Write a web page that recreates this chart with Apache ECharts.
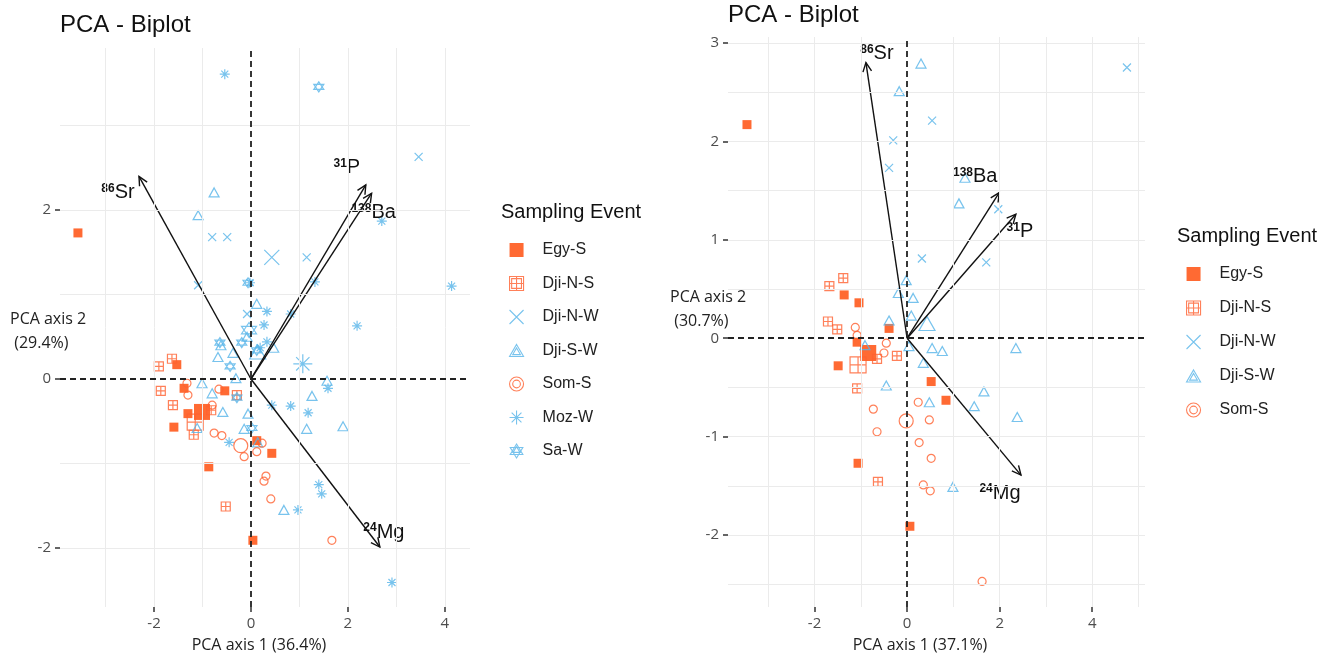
<!DOCTYPE html>
<html>
<head>
<meta charset="utf-8">
<title>PCA - Biplot</title>
<script src="https://cdn.jsdelivr.net/npm/echarts@6/dist/echarts.min.js"></script>
<style>
  html, body { margin: 0; padding: 0; background: #fff; }
  #main { width: 1338px; height: 659px; }
</style>
</head>
<body>
<div id="main"></div>
<script>
// ---- data: left biplot ----
const leftEgyS = [[-3.57, 1.73], [-1.53, 0.17], [-1.38, -0.11], [-1.30, -0.41], [-1.59, -0.57], [-0.54, -0.14], [0.12, -0.73], [0.43, -0.88], [-0.87, -1.04], [0.04, -1.91]];
const leftDjiNS = [[-1.90, 0.15], [-1.63, 0.24], [-1.86, -0.14], [-1.61, -0.31], [-1.18, -0.66], [-0.29, -0.19], [-0.82, -0.37], [-0.52, -1.51]];
const leftDjiNW = [[3.46, 2.63], [-0.80, 1.68], [-0.49, 1.68], [1.15, 1.44], [-1.09, 1.11], [-0.08, 0.77]];
const leftDjiSW = [[-0.76, 2.21], [-1.09, 1.94], [0.12, 0.89], [-1.01, -0.05], [-0.80, -0.17], [-0.58, -0.39], [-0.06, -0.41], [-0.14, -0.59], [-1.11, -0.58], [-0.68, 0.26], [-0.37, 0.31], [0.47, 0.37], [-0.08, 0.50], [0.14, -0.75], [1.57, -0.02], [1.26, -0.20], [1.15, -0.59], [1.90, -0.56], [0.68, -1.55], [-0.62, 0.40], [-0.31, 0.01]];
const leftSomS = [[-1.32, -0.05], [-1.30, -0.19], [-0.66, -0.12], [-0.80, -0.31], [-0.76, -0.64], [-0.60, -0.67], [-0.14, -0.92], [0.12, -0.86], [0.23, -0.76], [0.31, -1.15], [0.27, -1.21], [0.41, -1.42], [1.67, -1.91]];
const leftMozW = [[-0.54, 3.61], [2.70, 1.87], [1.32, 1.15], [4.14, 1.10], [0.33, 0.80], [0.27, 0.64], [2.19, 0.63], [0.82, 0.77], [0.33, 0.44], [0.19, 0.37], [-0.02, 1.14], [1.59, -0.11], [0.43, -0.31], [0.82, -0.32], [1.18, -0.40], [-0.45, -0.75], [1.40, -1.25], [1.46, -1.36], [0.97, -1.55], [2.91, -2.41]];
const leftSaW = [[1.40, 3.46], [-0.06, 1.14], [-0.64, 0.43], [-0.43, 0.15], [-0.29, -0.22], [0.02, -0.58], [0.12, 0.34], [-0.19, 0.43]];
// group means (large symbols), same order as groupNames
const leftMeans = [[-1.01, -0.39], [-1.15, -0.51], [0.43, 1.44], [0.14, 0.32], [-0.21, -0.79], [1.07, 0.18], [-0.04, 0.58]];
const leftLoadings = [[-2.31, 2.40], [2.37, 2.30], [2.49, 2.20], [2.66, -1.99]];

// ---- data: right biplot ----
const rightEgyS = [[-3.46, 2.17], [-1.36, 0.44], [-1.04, 0.36], [-0.39, 0.10], [-1.08, -0.04], [-1.49, -0.28], [0.52, -0.44], [0.84, -0.63], [-1.06, -1.27], [0.06, -1.91]];
const rightDjiNS = [[-1.68, 0.53], [-1.38, 0.61], [-1.71, 0.17], [-1.51, 0.09], [-0.65, -0.21], [-0.22, -0.18], [-1.08, -0.51], [-0.63, -1.46]];
const rightDjiNW = [[4.75, 2.75], [0.54, 2.21], [-0.30, 2.01], [-0.39, 1.73], [1.97, 1.31], [0.32, 0.81], [1.71, 0.77]];
const rightDjiSW = [[0.30, 2.79], [-0.17, 2.51], [1.12, 1.37], [1.25, 1.63], [-0.02, 0.59], [-0.19, 0.46], [0.13, 0.41], [0.09, 0.23], [-0.39, 0.18], [0.04, -0.08], [0.54, -0.10], [0.76, -0.13], [2.35, -0.10], [0.35, -0.25], [-0.45, -0.48], [1.66, -0.54], [0.48, -0.65], [1.45, -0.69], [2.38, -0.80], [0.99, -1.51], [-0.91, -0.07]];
const rightSomS = [[-1.12, 0.11], [-1.08, 0.03], [-0.45, -0.05], [-0.50, -0.15], [0.24, -0.65], [-0.73, -0.72], [0.48, -0.83], [-0.65, -0.95], [0.26, -1.06], [0.52, -1.22], [0.35, -1.49], [0.50, -1.55], [1.62, -2.47]];
const rightMeans = [[-0.84, -0.15], [-1.06, -0.27], null, [0.43, 0.15], [-0.02, -0.84]];
const rightLoadings = [[-0.89, 2.80], [1.99, 1.48], [2.35, 1.26], [2.46, -1.39]];

// ---- labels ----
const groupNames = ['Egy-S', 'Dji-N-S', 'Dji-N-W', 'Dji-S-W', 'Som-S', 'Moz-W', 'Sa-W'];
const leftVarNames = ['Sr', 'P', 'Ba', 'Mg'];
const leftIsotopes = ['86', '31', '138', '24'];
const rightVarNames = ['Sr', 'Ba', 'P', 'Mg'];
const rightIsotopes = ['86', '138', '31', '24'];

const leftXTicks = [-2, 0, 2, 4];
const leftYTicks = [-2, 0, 2];
const leftXGrid = [-3, -2, -1, 1, 2, 3, 4];
const leftYGrid = [-2, -1, 1, 2, 3];
const rightXTicks = [-2, 0, 2, 4];
const rightYTicks = [-2, -1, 0, 1, 2, 3];
const rightXGrid = [-3, -2, -1, 1, 2, 3, 4, 5];
const rightYGrid = [-2.5, -2, -1.5, -1, -0.5, 0.5, 1, 1.5, 2, 2.5, 3];

// ---- styles ----
const RED = '#FF4500';
const ORANGE = '#FF6030';
const BLUE = '#56B4E9';
const SYM = {
  'Egy-S':   { symbol: 'rect', size: 9, big: 16, color: RED, filled: true, icon: 'rect' },
  'Dji-N-S': { symbol: 'path://M0,0H10V10H0Z M5,0V10 M0,5H10', size: 9, big: 16, color: ORANGE,
               icon: 'path://M0,0H20V20H0Z M3,3H17V17H3Z M10,0V20 M0,10H20' },
  'Dji-N-W': { symbol: 'path://M0,0L10,10 M10,0L0,10', size: 8, big: 15, color: BLUE,
               icon: 'path://M0,0L20,20 M20,0L0,20' },
  'Dji-S-W': { symbol: 'path://M5,0L10,8.66L0,8.66Z', size: [10, 9], big: [16, 14], color: BLUE,
               icon: 'path://M10,0L20,17.3L0,17.3Z M10,5L15.5,14.5L4.5,14.5Z' },
  'Som-S':   { symbol: 'circle', size: 8, big: 14, color: ORANGE,
               icon: 'path://M0,10a10,10 0 1,0 20,0a10,10 0 1,0 -20,0 M4.5,10a5.5,5.5 0 1,0 11,0a5.5,5.5 0 1,0 -11,0' },
  'Moz-W':   { symbol: 'path://M5,0V10 M0,5H10 M1.5,1.5L8.5,8.5 M8.5,1.5L1.5,8.5', size: 10, big: 19, color: BLUE,
               icon: 'path://M10,0V20 M0,10H20 M3,3L17,17 M17,3L3,17' },
  'Sa-W':    { symbol: 'path://M5,0L10,7.5H0Z M5,10L0,2.5H10Z', size: 10, big: 15, color: BLUE,
               icon: 'path://M10,0L19,15H1Z M10,20L1,5H19Z M10,4L15,12H5Z' }
};

function itemStyleFor(name) {
  const s = SYM[name];
  return s.filled ? { color: s.color }
                  : { color: 'rgba(0,0,0,0)', borderColor: s.color, borderWidth: 1.2 };
}

function pointSeries(panel, name, pts, mean) {
  const s = SYM[name];
  const out = [{
    type: 'scatter', name: name, xAxisIndex: panel, yAxisIndex: panel,
    symbol: s.symbol, symbolSize: s.size, data: pts, z: 3,
    itemStyle: itemStyleFor(name), emphasis: { disabled: true }, silent: true
  }];
  if (mean) {
    out.push({
      type: 'scatter', name: name, xAxisIndex: panel, yAxisIndex: panel,
      symbol: s.symbol, symbolSize: s.big, data: [mean], z: 3,
      itemStyle: itemStyleFor(name), emphasis: { disabled: true }, silent: true
    });
  }
  return out;
}

function gridSeries(panel, xs, ys) {
  return [{
    type: 'scatter', xAxisIndex: panel, yAxisIndex: panel, data: [[0, 0]], symbolSize: 0, z: 1, silent: true,
    markLine: {
      silent: true, symbol: ['none', 'none'], label: { show: false }, animation: false,
      lineStyle: { color: '#EBEBEB', width: 1, type: 'solid' },
      data: xs.map(v => ({ xAxis: v })).concat(ys.map(v => ({ yAxis: v })))
    }
  }, {
    type: 'scatter', xAxisIndex: panel, yAxisIndex: panel, data: [[0, 0]], symbolSize: 0, z: 2, silent: true,
    markLine: {
      silent: true, symbol: ['none', 'none'], label: { show: false }, animation: false,
      lineStyle: { color: '#222', width: 1.8, type: [6, 4] },
      data: [{ xAxis: 0 }, { yAxis: 0 }]
    }
  }];
}

// pixel offsets of the variable labels from their arrow tips
const leftLabelOffsets = [[-21, 16], [-19, -17], [2, 19], [4, -15]];
const rightLabelOffsets = [[11, -9], [-24, -16], [4, 17], [-21, 18]];

function arrowSeries(panel, loadings, names, isotopes, offsets) {
  return {
    type: 'custom', xAxisIndex: panel, yAxisIndex: panel, data: loadings, z: 4, clip: false, silent: true,
    renderItem: function (params, api) {
      const o = api.coord([0, 0]);
      const t = api.coord([api.value(0), api.value(1)]);
      const ang = Math.atan2(t[1] - o[1], t[0] - o[0]);
      const hl = 10, ha = Math.PI / 7;
      const h1 = [t[0] - hl * Math.cos(ang - ha), t[1] - hl * Math.sin(ang - ha)];
      const h2 = [t[0] - hl * Math.cos(ang + ha), t[1] - hl * Math.sin(ang + ha)];
      const i = params.dataIndex;
      const off = offsets[i];
      return {
        type: 'group',
        children: [
          { type: 'line', shape: { x1: o[0], y1: o[1], x2: t[0], y2: t[1] },
            style: { stroke: '#111', lineWidth: 1.4 } },
          { type: 'polyline', shape: { points: [h1, t, h2] },
            style: { stroke: '#111', lineWidth: 1.4, fill: 'none' } },
          { type: 'text', x: t[0] + off[0], y: t[1] + off[1],
            style: {
              text: '{s|' + isotopes[i] + '}{m|' + names[i] + '}',
              align: 'center', verticalAlign: 'middle',
              rich: {
                s: { fontSize: 12, fontWeight: 'bold', fill: '#111', verticalAlign: 'top', fontFamily: 'Liberation Sans', padding: [0, 0, 7, 0] },
                m: { fontSize: 20, fill: '#111', fontFamily: 'Liberation Sans' }
              }
            } }
        ]
      };
    }
  };
}

function axisCfg(grid, min, max, ticks) {
  return {
    type: 'value', gridIndex: grid, min: min, max: max,
    splitLine: { show: false },
    axisLine: { show: true, onZero: false, lineStyle: { color: 'rgba(0,0,0,0)' } },
    axisTick: { show: true, customValues: ticks, length: 5, lineStyle: { color: '#333', width: 1.5 } },
    axisLabel: { customValues: ticks, color: '#4D4D4D', fontSize: 15, margin: 9, fontFamily: 'Open Sans' }
  };
}

function legendCfg(names, left, top, gap) {
  return {
    orient: 'vertical', left: left, top: top, padding: 0,
    itemWidth: 14, itemHeight: 14, itemGap: gap, selectedMode: false,
    textStyle: { fontSize: 16, color: '#222', fontFamily: 'Liberation Sans', padding: [0, 0, 0, 14] },
    data: names.map(n => ({
      name: n, icon: SYM[n].icon,
      itemStyle: SYM[n].filled ? { color: SYM[n].color, borderWidth: 0 }
                               : { color: 'rgba(0,0,0,0)', borderColor: SYM[n].color, borderWidth: 1.1 }
    }))
  };
}

const leftGroups = [leftEgyS, leftDjiNS, leftDjiNW, leftDjiSW, leftSomS, leftMozW, leftSaW];
const rightGroups = [rightEgyS, rightDjiNS, rightDjiNW, rightDjiSW, rightSomS];

let series = [];
series = series.concat(gridSeries(0, leftXGrid, leftYGrid));
series = series.concat(gridSeries(1, rightXGrid, rightYGrid));
leftGroups.forEach((pts, i) => { series = series.concat(pointSeries(0, groupNames[i], pts, leftMeans[i])); });
rightGroups.forEach((pts, i) => { series = series.concat(pointSeries(1, groupNames[i], pts, rightMeans[i])); });
series.push(arrowSeries(0, leftLoadings, leftVarNames, leftIsotopes, leftLabelOffsets));
series.push(arrowSeries(1, rightLoadings, rightVarNames, rightIsotopes, rightLabelOffsets));

const chart = echarts.init(document.getElementById('main'));
chart.setOption({
  animation: false,
  backgroundColor: '#fff',
  textStyle: { fontFamily: 'Liberation Sans' },
  title: [
    { text: 'PCA - Biplot', left: 60, top: 13, padding: 0,
      textStyle: { fontSize: 24, fontWeight: 'normal', color: '#111', fontFamily: 'Liberation Sans' } },
    { text: 'PCA - Biplot', left: 728, top: 3, padding: 0,
      textStyle: { fontSize: 24, fontWeight: 'normal', color: '#111', fontFamily: 'Liberation Sans' } },
    { text: 'Sampling Event', left: 501, top: 202, padding: 0,
      textStyle: { fontSize: 20, fontWeight: 'normal', color: '#111', fontFamily: 'Liberation Sans' } },
    { text: 'Sampling Event', left: 1177, top: 226, padding: 0,
      textStyle: { fontSize: 20, fontWeight: 'normal', color: '#111', fontFamily: 'Liberation Sans' } }
  ],
  grid: [
    { left: 60, top: 48, width: 410, height: 559 },
    { left: 728, top: 37, width: 417, height: 570 }
  ],
  xAxis: [axisCfg(0, -3.94, 4.52, leftXTicks), axisCfg(1, -3.87, 5.14, rightXTicks)],
  yAxis: [axisCfg(0, -2.70, 3.92, leftYTicks), axisCfg(1, -2.73, 3.06, rightYTicks)],
  legend: [
    legendCfg(groupNames, 509, 242, 17.5),
    legendCfg(groupNames.slice(0, 5), 1186, 266, 18)
  ],
  graphic: [
    { type: 'text', x: 10, y: 307, silent: true,
      style: { text: 'PCA axis 2\n (29.4%)', fontSize: 16, lineHeight: 24, fill: '#222', fontFamily: 'Open Sans' } },
    { type: 'text', x: 670, y: 285, silent: true,
      style: { text: 'PCA axis 2\n (30.7%)', fontSize: 16, lineHeight: 24, fill: '#222', fontFamily: 'Open Sans' } },
    { type: 'text', x: 259, y: 645, silent: true,
      style: { text: 'PCA axis 1 (36.4%)', fontSize: 16, fill: '#222', fontFamily: 'Open Sans', align: 'center', verticalAlign: 'middle' } },
    { type: 'text', x: 920, y: 645, silent: true,
      style: { text: 'PCA axis 1 (37.1%)', fontSize: 16, fill: '#222', fontFamily: 'Open Sans', align: 'center', verticalAlign: 'middle' } }
  ],
  series: series
});
</script>
</body>
</html>
